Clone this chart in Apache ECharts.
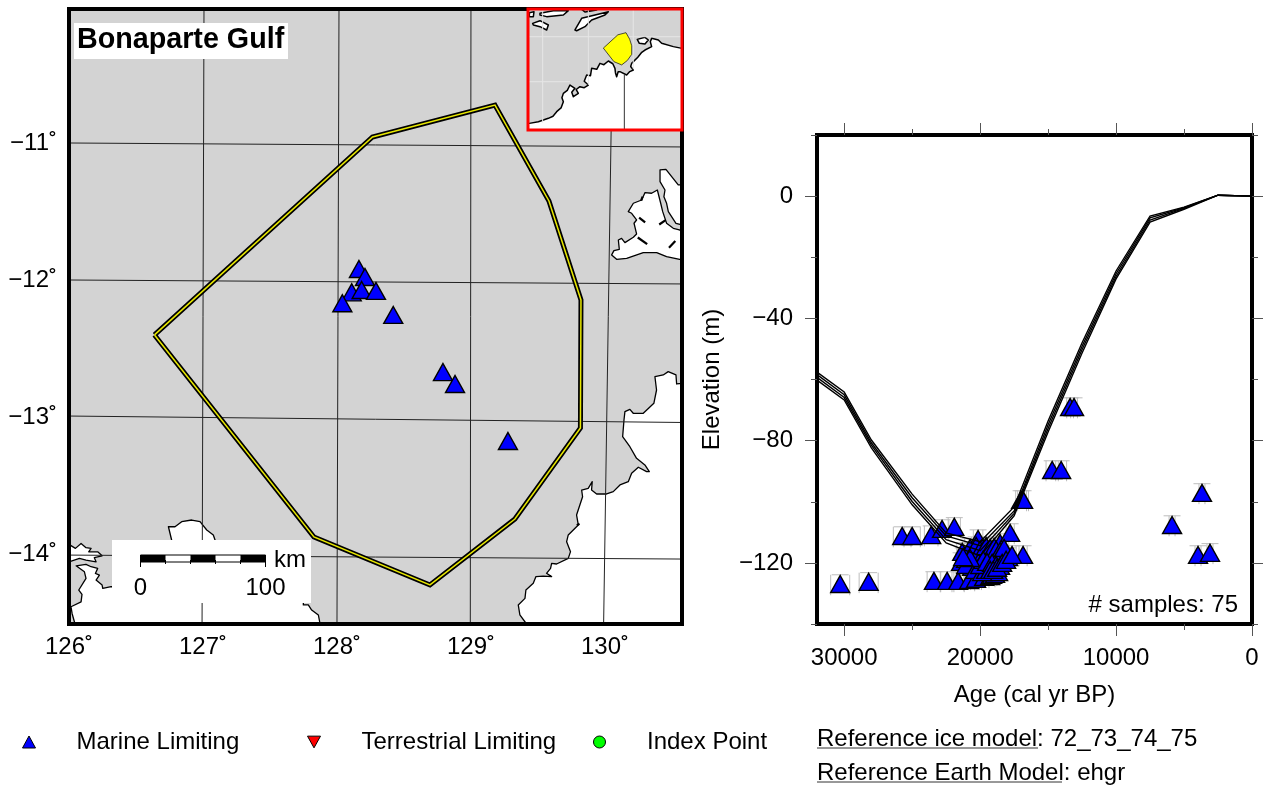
<!DOCTYPE html>
<html><head><meta charset="utf-8">
<script src="https://cdn.jsdelivr.net/npm/echarts@6/dist/echarts.min.js"></script>
<style>html,body{margin:0;padding:0;background:#fff}#c{width:1263px;height:787px}</style>
</head><body><div id="c"></div>
<script>
// ---------- map values (lon, lat) ----------
const regionPolygon = [[126.638,-12.401],[128.265,-10.956],[129.179,-10.723],[129.582,-11.423],[129.821,-12.146],[129.817,-13.080],[129.328,-13.745],[128.694,-14.226],[127.828,-13.876],[126.638,-12.401]];
const mapSamples = [[128.164,-11.920],[128.209,-11.978],[128.110,-12.090],[128.184,-12.073],[128.291,-12.080],[128.040,-12.170],[128.420,-12.255],[128.791,-12.672],[128.881,-12.759],[129.276,-13.175]];
const meridians = [[[127.0075,-10.022],[126.993,-14.511]],[[128.015,-10.022],[128.0,-14.511]],[[129.0,-10.022],[128.995,-14.511]],[[130.06,-10.022],[129.99,-14.511]]];
const parallels = [[[126,-11.0],[130.575,-11.029]],[[126,-12.0],[130.575,-12.029]],[[126,-12.993],[130.575,-13.04]],[[126,-14.008],[130.575,-14.037]]];
const lonTicks = [126,127,128,129,130];
const latTicks = [-14,-13,-12,-11];
const landTiwiSouth = [[130.050,-11.817],[130.067,-11.786],[130.107,-11.776],[130.100,-11.708],[130.124,-11.696],[130.149,-11.727],[130.212,-11.688],[130.236,-11.664],[130.217,-11.586],[130.236,-11.562],[130.199,-11.513],[130.174,-11.501],[130.212,-11.440],[130.274,-11.416],[130.299,-11.362],[130.348,-11.367],[130.391,-11.343],[130.416,-11.440],[130.431,-11.501],[130.460,-11.586],[130.510,-11.623],[130.555,-11.635],[130.575,-11.635],[130.575,-11.854],[130.460,-11.830],[130.386,-11.800],[130.286,-11.800],[130.162,-11.842],[130.087,-11.849]];
const landTiwiNorth = [[130.411,-11.197],[130.455,-11.192],[130.547,-11.306],[130.575,-11.306],[130.575,-11.598],[130.530,-11.586],[130.473,-11.501],[130.460,-11.440],[130.440,-11.392],[130.448,-11.343],[130.411,-11.282]];
const landMainland = [[130.575,-12.754],[130.535,-12.759],[130.530,-12.693],[130.472,-12.669],[130.435,-12.693],[130.373,-12.706],[130.385,-12.803],[130.365,-12.900],[130.286,-12.973],[130.211,-12.973],[130.186,-12.944],[130.149,-12.961],[130.142,-13.022],[130.132,-13.144],[130.186,-13.217],[130.236,-13.302],[130.298,-13.350],[130.331,-13.399],[130.311,-13.399],[130.249,-13.367],[130.199,-13.411],[130.174,-13.472],[130.112,-13.496],[130.062,-13.545],[130.012,-13.562],[129.938,-13.562],[129.900,-13.533],[129.905,-13.472],[129.875,-13.521],[129.826,-13.533],[129.833,-13.582],[129.788,-13.715],[129.801,-13.788],[129.726,-13.861],[129.714,-13.910],[129.743,-13.983],[129.726,-14.032],[129.639,-14.073],[129.602,-14.068],[129.594,-14.105],[129.564,-14.141],[129.602,-14.165],[129.539,-14.161],[129.485,-14.165],[129.465,-14.214],[129.410,-14.263],[129.403,-14.324],[129.353,-14.372],[129.365,-14.445],[129.415,-14.511],[130.575,-14.511]];
const landWestIsland = [[126.0,-13.930],[126.048,-13.959],[126.090,-13.923],[126.127,-13.954],[126.165,-13.959],[126.147,-13.984],[126.214,-13.984],[126.247,-14.013],[126.189,-14.027],[126.202,-14.057],[126.127,-14.044],[126.078,-14.032],[126.0,-14.057]];
const landSouthWest = [[126.015,-14.385],[126.090,-14.349],[126.097,-14.295],[126.073,-14.263],[126.127,-14.178],[126.115,-14.130],[126.053,-14.086],[126.127,-14.076],[126.165,-14.093],[126.214,-14.105],[126.197,-14.142],[126.227,-14.154],[126.202,-14.190],[126.247,-14.227],[126.252,-14.251],[126.314,-14.239],[127.749,-14.3],[127.749,-14.372],[127.786,-14.372],[127.811,-14.409],[127.861,-14.445],[127.874,-14.511],[126.045,-14.511],[126.023,-14.434]];
const landCentralSouth = [[126.742,-13.801],[126.791,-13.801],[126.841,-13.764],[126.916,-13.752],[126.978,-13.764],[127.028,-13.825],[127.077,-13.861],[127.090,-13.898],[127.090,-13.995],[126.766,-13.995],[126.766,-13.898]];
const inlets = [[[130.281,-11.392],[130.270,-11.420]],[[130.255,-11.545],[130.300,-11.580]],[[130.405,-11.595],[130.450,-11.565]],[[130.245,-11.690],[130.315,-11.738]],[[130.478,-11.765],[130.525,-11.715]],[[129.79,-13.79],[129.81,-13.78]]];
// ---------- inset values ----------
const insetMainland = [[118.35,-20.58],[119.36,-20.40],[120.48,-20.03],[121.0,-19.8],[121.41,-19.31],[121.9,-18.9],[122.16,-18.22],[122.0,-17.8],[122.16,-17.32],[122.6,-17.0],[122.90,-16.41],[123.46,-16.77],[123.1,-17.2],[123.28,-17.68],[123.84,-17.32],[123.6,-16.9],[124.02,-16.59],[124.5,-16.7],[124.96,-16.41],[124.5,-16.0],[124.77,-15.32],[125.2,-15.4],[125.33,-14.60],[125.9,-14.7],[126.26,-14.06],[126.7,-14.2],[127.20,-13.80],[127.7,-14.1],[127.94,-14.60],[128.0,-15.1],[128.13,-15.51],[128.30,-14.96],[128.50,-14.96],[129.25,-15.32],[129.6,-14.95],[130.00,-14.78],[129.7,-14.4],[129.81,-14.06],[130.5,-13.4],[130.9,-12.9],[131.30,-12.61],[132.05,-12.24],[131.9,-11.7],[132.05,-11.34],[132.80,-11.52],[133.17,-11.88],[134.48,-12.24],[135.45,-12.43],[135.45,-21.3],[118.2,-21.3],[118.2,-20.6]];
const insetTimor = [[123.46,-10.43],[124.21,-9.16],[127.20,-8.44],[126.82,-8.80],[125.33,-9.35],[124.58,-10.07],[123.65,-10.51]];
const insetFlores = [[119.54,-8.62],[121.04,-8.33],[122.72,-8.33],[122.16,-8.80],[120.29,-8.98],[119.54,-8.80]];
const insetSumba = [[118.72,-9.71],[119.54,-9.42],[120.48,-9.89],[120.29,-10.43],[119.54,-10.07],[118.80,-9.89]];
const insetSmall = [[118.35,-8.55],[118.87,-8.44],[118.80,-8.98],[118.35,-8.98]];
const insetTop = [[124.21,-8.19],[125.89,-8.26],[124.58,-8.48]];
const insetMelville = [[130.44,-11.45],[131.30,-11.23],[131.68,-11.52],[131.30,-11.96],[130.67,-11.88]];
const insetGraticule = [[[119.84,-8.15],[119.84,-20.5]],[[124.96,-8.15],[124.96,-16.4]],[[129.99,-8.15],[129.99,-14.7]],[[118.2,-11.16],[135.45,-11.16]],[[118.2,-16.05],[122.9,-16.05]]];
const insetMeridianOnLand = [[128.99,-15.32],[128.99,-21.3]];
// ---------- elevation panel values ----------
const curveAges = [32000,30000,28000,25000,22500,20000,17500,15000,12500,10000,7500,5000,2500,0];
const curve1 = [-57.6,-64.1,-79.8,-97.5,-110.2,-113.1,-101.7,-73.6,-48.0,-24.5,-6.5,-3.6,0.3,0];
const curve2 = [-58.4,-65.0,-80.7,-98.7,-111.2,-114.4,-103.0,-74.8,-49.1,-25.4,-7.1,-3.8,0.3,0];
const curve3 = [-59.3,-65.9,-81.5,-99.9,-112.4,-116.0,-103.8,-76.0,-50.2,-26.3,-7.8,-4.0,0.3,0];
const curve4 = [-60.2,-66.7,-82.4,-101.0,-113.5,-117.7,-104.6,-77.2,-51.3,-27.1,-8.5,-4.3,0.3,0];
const sampleAge = [30294,28200,25735,25000,23600,22800,21900,23400,22430,21620,20800,20300,19700,19260,19120,18900,18680,21400,21030,20590,20150,20370,20880,21320,20150,19850,19630,19410,19190,18900,18680,18310,17940,18530,17790,16840,16985,16840,14700,14040,13380,13090,5880,3680,3970,3090,20740,20510,20290,20000,19700,19560,19260,18970,18820,18530,18240,21030,20370,19850,19560,20000,19780,19490,19120,18820,18530,20740,21250,19260,19040,18750,18380,18090,17650];
const sampleElev = [-126.9,-126.2,-111.2,-111.2,-110.9,-108.9,-108.2,-125.9,-125.9,-125.9,-125.6,-125.2,-124.6,-124.3,-123.9,-123.6,-123.0,-119.7,-118.7,-121.3,-119.7,-117.4,-116.7,-116.4,-112.2,-115.1,-117.4,-116.7,-118.1,-117.7,-117.7,-118.1,-118.1,-113.5,-110.2,-117.4,-99.4,-99.4,-89.6,-89.6,-69.0,-69.0,-107.6,-97.1,-117.4,-116.7,-115.1,-116.4,-114.5,-115.8,-116.4,-114.5,-115.1,-114.8,-115.8,-116.1,-115.1,-120.7,-122.3,-123.0,-122.3,-120.7,-119.0,-119.7,-120.0,-120.7,-121.0,-118.4,-118.1,-122.3,-122.3,-121.6,-120.0,-119.0,-117.4];
const sampleAgeErr = [700,700,650,600,500,500,450,500,500,450,400,400,350,350,350,350,350,400,400,400,350,350,400,400,350,350,350,350,350,350,350,350,350,350,300,300,400,400,450,400,250,250,220,220,220,220,400,400,350,350,350,350,350,350,350,350,350,400,400,350,350,350,350,350,350,350,350,400,400,350,350,350,350,350,300];
const elevErrUp = 3.0, elevErrDown = 3.7;
const ageLabels = [0,10000,20000,30000];
const ageMinor = [5000,15000,25000];
const elevLabels = [-120,-80,-40,0];
const elevMinor = [-140,-100,-60,-20,20];
const legendNames = ['Marine Limiting','Terrestrial Limiting','Index Point'];

const FONT = '"Liberation Sans", Arial, Helvetica, sans-serif';
const FS = 24;
const GREY = '#d3d3d3', BLUE = '#0000ff';

function polySeries(polys, xi, yi, z, fill, stroke, lw){
  return {type:'custom', xAxisIndex:xi, yAxisIndex:yi, z, silent:true, animation:false,
    coordinateSystem:'cartesian2d', data:polys.map((p,i)=>[p[0][0],p[0][1],i]),
    renderItem:(params,api)=>{
      const p = polys[api.value(2)];
      return {type:'polygon', shape:{points:p.map(q=>api.coord(q))}, style:{fill, stroke, lineWidth:lw, lineJoin:'round'}};
    }};
}
function lineSeries(pts, xi, yi, z, color, w){
  return {type:'line', xAxisIndex:xi, yAxisIndex:yi, z, data:pts, symbol:'none', silent:true, animation:false,
    clip:true, lineStyle:{color, width:w, join:'miter'}};
}

const series = [];
series.push(polySeries([landTiwiSouth,landTiwiNorth,landMainland,landWestIsland,landSouthWest,landCentralSouth],0,0,1,'#fff','#000',1.3));
inlets.forEach(s=>series.push(lineSeries(s,0,0,1,'#000',2.2)));
meridians.concat(parallels).forEach(s=>series.push(lineSeries(s,0,0,2,'#222',1)));
series.push(lineSeries(regionPolygon,0,0,3,'#000',5));
series.push(lineSeries(regionPolygon,0,0,4,'#e8e800',1.5));
series.push({type:'scatter',name:'Marine Limiting',xAxisIndex:0,yAxisIndex:0,z:5,silent:true,animation:false,
  data:mapSamples,symbol:'triangle',symbolSize:[19,17],itemStyle:{color:BLUE,borderColor:'#000',borderWidth:1.4,opacity:1}});
// inset
const insetFrame = [regionPolygon];
series.push(polySeries([insetMainland,insetTimor,insetFlores,insetSumba,insetSmall,insetTop,insetMelville],5,5,21,'#fff','#000',1.5));
insetGraticule.forEach(s=>series.push(lineSeries(s,5,5,22,'#e6e6e6',1)));
series.push(lineSeries(insetMeridianOnLand,5,5,22,'#333',1));
series.push(polySeries(insetFrame,5,5,23,'#ffff00','#222',0.8));
// elevation panel
const samplePts = sampleAge.map((a,i)=>[a,sampleElev[i],sampleAgeErr[i]]);
series.push({type:'custom',xAxisIndex:1,yAxisIndex:1,z:3,silent:true,animation:false,coordinateSystem:'cartesian2d',
  data:samplePts,
  renderItem:(params,api)=>{
    const age=api.value(0), el=api.value(1), err=api.value(2);
    const top=api.coord([age,el+elevErrUp]), bot=api.coord([age,el-elevErrDown]);
    const l=api.coord([age+err,el]), r=api.coord([age-err,el]);
    const st={stroke:'#bdbdbd',lineWidth:1,fill:null};
    const seg=(x1,y1,x2,y2)=>({type:'line',shape:{x1,y1,x2,y2},style:st});
    return {type:'group',children:[
      seg(top[0]-8.5,top[1],top[0]+8.5,top[1]),
      seg(l[0],top[1],l[0],bot[1]),
      seg(r[0],top[1],r[0],bot[1])
    ]};
  }});
series.push({type:'scatter',name:'Marine Limiting',xAxisIndex:1,yAxisIndex:1,z:4,silent:true,animation:false,
  data:samplePts.map(p=>[p[0],p[1]]),symbol:'triangle',symbolSize:[19,17],itemStyle:{color:BLUE,borderColor:'#000',borderWidth:1.4,opacity:1}});
[curve1,curve2,curve3,curve4].forEach(c=>series.push(lineSeries(curveAges.map((a,i)=>[a,c[i]]),1,1,6,'#000',1.4)));
// legend-only series
series.push({type:'scatter',name:'Terrestrial Limiting',xAxisIndex:1,yAxisIndex:1,data:[],symbol:'triangle',itemStyle:{color:'#ff0000',borderColor:'#000',borderWidth:1,opacity:1}});
series.push({type:'scatter',name:'Index Point',xAxisIndex:1,yAxisIndex:1,data:[],symbol:'circle',itemStyle:{color:'#00ff00',borderColor:'#000',borderWidth:1,opacity:1}});

const none = {show:false};
const noLine = {show:false,onZero:false};
function mapX(grid,min,max){return {type:'value',gridIndex:grid,min,max,axisLine:noLine,axisTick:none,splitLine:none,axisLabel:none};}
const tickStyle = {color:'#555',width:1};
const labelNudge = [6,0,0,0];
const ageAxis=(pos,vals,len,label)=>({type:'value',gridIndex:1,min:0,max:32000,inverse:true,position:pos,axisLine:noLine,splitLine:none,
  axisTick:{show:true,length:len,customValues:vals,lineStyle:tickStyle},
  axisLabel:label?{show:true,customValues:vals,margin:22,color:'#000',fontSize:FS,fontFamily:FONT,formatter:v=>String(v)}:none});
const elevAxis=(pos,vals,len,label)=>({type:'value',gridIndex:1,min:-140,max:20,position:pos,axisLine:noLine,splitLine:none,
  axisTick:{show:true,length:len,customValues:vals,lineStyle:tickStyle},
  axisLabel:label?{show:true,customValues:vals,margin:24,padding:labelNudge,color:'#000',fontSize:FS,fontFamily:FONT,formatter:v=>v<0?'\u2212'+(-v):String(v)}:none});

const xBottom = ageAxis('bottom',ageLabels,12,true);
Object.assign(xBottom,{name:'Age (cal yr BP)',nameLocation:'middle',nameGap:59,nameTextStyle:{color:'#000',fontSize:FS,fontFamily:FONT}});
const yLeft = elevAxis('left',elevLabels,12,true);
Object.assign(yLeft,{name:'Elevation (m)',nameLocation:'middle',nameGap:93,nameTextStyle:{color:'#000',fontSize:FS,fontFamily:FONT}});

const option = {
  animation:false,
  backgroundColor:'#fff',
  textStyle:{fontFamily:FONT},
  grid:[
    {left:69,top:9,width:613,height:615,show:true,backgroundColor:GREY,borderColor:'#000',borderWidth:0,z:0},
    {left:817,top:135,width:435,height:489,show:true,backgroundColor:'#fff',borderColor:'#000',borderWidth:4,z:0},
    {left:69,top:9,width:613,height:615,show:true,backgroundColor:'transparent',borderColor:'#000',borderWidth:4,z:15},
    {left:528,top:9,width:154,height:121,show:true,backgroundColor:GREY,borderColor:'#f00',borderWidth:0,z:20},
    {left:528,top:9,width:154,height:121,show:true,backgroundColor:'transparent',borderColor:'#f00',borderWidth:3,z:30}
  ],
  xAxis:[
    {type:'value',gridIndex:0,min:126,max:130.575,position:'bottom',axisLine:noLine,axisTick:none,splitLine:none,
      axisLabel:{show:true,customValues:lonTicks,margin:11,color:'#000',fontSize:FS,fontFamily:FONT,formatter:v=>v+'\u02da'}},
    xBottom,
    ageAxis('bottom',ageMinor,6,false),
    ageAxis('top',ageLabels.concat([]),12,false),
    ageAxis('top',ageMinor,6,false),
    mapX(3,118.2,135.45),
    mapX(2,126,130.575),
    mapX(4,118.2,135.45)
  ],
  yAxis:[
    {type:'value',gridIndex:0,min:-14.511,max:-10.022,position:'left',axisLine:noLine,axisTick:none,splitLine:none,
      axisLabel:{show:true,customValues:latTicks,margin:12,padding:labelNudge,color:'#000',fontSize:FS,fontFamily:FONT,formatter:v=>'\u2212'+(-v)+'\u02da'}},
    yLeft,
    elevAxis('left',elevMinor,6,false),
    elevAxis('right',elevLabels,12,false),
    elevAxis('right',elevMinor,6,false),
    mapX(3,-21.3,-8.15),
    mapX(2,-14.511,-10.022),
    mapX(4,-21.3,-8.15)
  ],
  legend:[
    {left:22,top:730,data:[{name:legendNames[0],icon:'triangle',itemStyle:{color:BLUE,borderColor:'#000',borderWidth:1,opacity:1}}]},
    {left:307,top:730,data:[{name:legendNames[1],icon:'path://M0,0L10,0L5,9Z',itemStyle:{color:'#f00',borderColor:'#000',borderWidth:1,opacity:1}}]},
    {left:593,top:730,data:[{name:legendNames[2],icon:'circle',itemStyle:{color:'#0f0',borderColor:'#000',borderWidth:1,opacity:1}}]}
  ].map(l=>Object.assign(l,{orient:'horizontal',itemWidth:13,itemHeight:12,padding:0,selectedMode:false,
    textStyle:{color:'#000',fontSize:FS,fontFamily:FONT,padding:[0,0,0,36]}})),
  graphic:[
    {type:'rect',shape:{x:74,y:23,width:214,height:36},style:{fill:'#fff'},z:10,silent:true},
    {type:'text',style:{x:77,y:40,text:'Bonaparte Gulf',fill:'#000',font:'bold 28.7px '+FONT,align:'left',verticalAlign:'middle'},z:11,silent:true},
    {type:'rect',shape:{x:112,y:540,width:199,height:63},style:{fill:'#fff'},z:10,silent:true},
    {type:'rect',shape:{x:140.5,y:555,width:125,height:7},style:{fill:'#fff',stroke:'#000',lineWidth:1},z:11,silent:true},
    {type:'rect',shape:{x:140.5,y:555,width:25,height:7},style:{fill:'#000'},z:11,silent:true},
    {type:'rect',shape:{x:190.5,y:555,width:25,height:7},style:{fill:'#000'},z:11,silent:true},
    {type:'rect',shape:{x:240.5,y:555,width:25,height:7},style:{fill:'#000'},z:11,silent:true},
    {type:'line',shape:{x1:140.5,y1:555,x2:140.5,y2:567},style:{stroke:'#000',lineWidth:1},z:11,silent:true},
    {type:'line',shape:{x1:265.5,y1:555,x2:265.5,y2:567},style:{stroke:'#000',lineWidth:1},z:11,silent:true},
    {type:'line',shape:{x1:165.5,y1:560,x2:165.5,y2:564},style:{stroke:'#000',lineWidth:1},z:11,silent:true},
    {type:'line',shape:{x1:190.5,y1:560,x2:190.5,y2:564},style:{stroke:'#000',lineWidth:1},z:11,silent:true},
    {type:'line',shape:{x1:215.5,y1:560,x2:215.5,y2:564},style:{stroke:'#000',lineWidth:1},z:11,silent:true},
    {type:'line',shape:{x1:240.5,y1:560,x2:240.5,y2:564},style:{stroke:'#000',lineWidth:1},z:11,silent:true},
    {type:'text',style:{x:274,y:560,text:'km',fill:'#000',font:FS+'px '+FONT,align:'left',verticalAlign:'middle'},z:11,silent:true},
    {type:'text',style:{x:140.5,y:588,text:'0',fill:'#000',font:FS+'px '+FONT,align:'center',verticalAlign:'middle'},z:11,silent:true},
    {type:'text',style:{x:265.5,y:588,text:'100',fill:'#000',font:FS+'px '+FONT,align:'center',verticalAlign:'middle'},z:11,silent:true},
    {type:'text',style:{x:1238,y:605,text:'# samples: 75',fill:'#000',font:FS+'px '+FONT,align:'right',verticalAlign:'middle'},z:11,silent:true},
    {type:'text',style:{x:817,y:739,text:'Reference ice model: 72_73_74_75',fill:'#000',font:FS+'px '+FONT,align:'left',verticalAlign:'middle'},z:11,silent:true},
    {type:'line',shape:{x1:817,y1:748,x2:1038,y2:748},style:{stroke:'#333',lineWidth:1},z:11,silent:true},
    {type:'text',style:{x:817,y:773,text:'Reference Earth Model: ehgr',fill:'#000',font:FS+'px '+FONT,align:'left',verticalAlign:'middle'},z:11,silent:true},
    {type:'line',shape:{x1:817,y1:782,x2:1062,y2:782},style:{stroke:'#333',lineWidth:1},z:11,silent:true}
  ],
  series
};
const chart = echarts.init(document.getElementById('c'),null,{renderer:'canvas'});
chart.setOption(option);
</script></body></html>
